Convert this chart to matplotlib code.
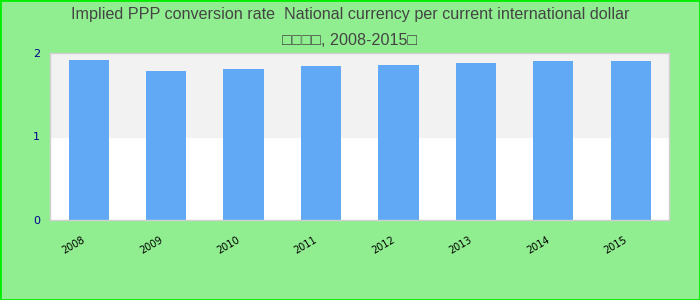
import matplotlib
matplotlib.use("Agg")
import matplotlib.pyplot as plt
import matplotlib.transforms as mtransforms
import numpy as np

# -- Data ------------------------------------------------------------------
YEARS = ["2008", "2009", "2010", "2011", "2012", "2013", "2014", "2015"]
PPP_RATE = [1.92, 1.78, 1.81, 1.84, 1.86, 1.88, 1.90, 1.91]
Y_TICKS = [0, 1, 2]

TITLE = ("Implied PPP conversion rate  National currency per current international dollar\n"
         "\u25a1\u25a1\u25a1\u25a1, 2008-2015\u25a1")

BG = "#90ee90"
BAR = "#61a8f5"

fig = plt.figure(figsize=(7, 3), dpi=100, facecolor=BG)
ax = fig.add_axes([0.0714, 0.267, 0.885, 0.556])
ax.set_facecolor("white")

# alternating bands
ax.axhspan(1, 2, color="#f2f2f2", zorder=0)

x = np.arange(len(YEARS))
ax.bar(x, PPP_RATE, width=0.52, color=BAR, zorder=2)

ax.set_xlim(-0.5, len(YEARS) - 0.5)
ax.set_ylim(0, 2)
ax.set_yticks(Y_TICKS)
ax.set_yticklabels([str(t) for t in Y_TICKS], fontsize=8, color="#00008b")
ax.set_xticks(x)
ax.set_xticklabels(YEARS, fontsize=7, rotation=30, ha="right",
                   rotation_mode="anchor", color="black")
ax.tick_params(axis="both", length=0)
ax.tick_params(axis="y", pad=7)
ax.tick_params(axis="x", pad=11)
# nudge x labels slightly left of bar centres
offset = mtransforms.ScaledTranslation(-7 / 100, 0, fig.dpi_scale_trans)
for lbl in ax.get_xticklabels():
    lbl.set_transform(lbl.get_transform() + offset)
for s in ax.spines.values():
    s.set_color("#d0d0d0")
    s.set_linewidth(1)

fig.text(0.5, 0.978, TITLE, ha="center", va="top", fontsize=11.6,
         color="#444444", family=["Liberation Sans", "DejaVu Sans"],
         linespacing=1.95)

# outer bright border
fig.patches.append(plt.Rectangle((0, 0), 1, 1, transform=fig.transFigure,
                                 fill=False, edgecolor="#00ee00", linewidth=2))

fig.savefig("out.png", dpi=100, facecolor=BG)
